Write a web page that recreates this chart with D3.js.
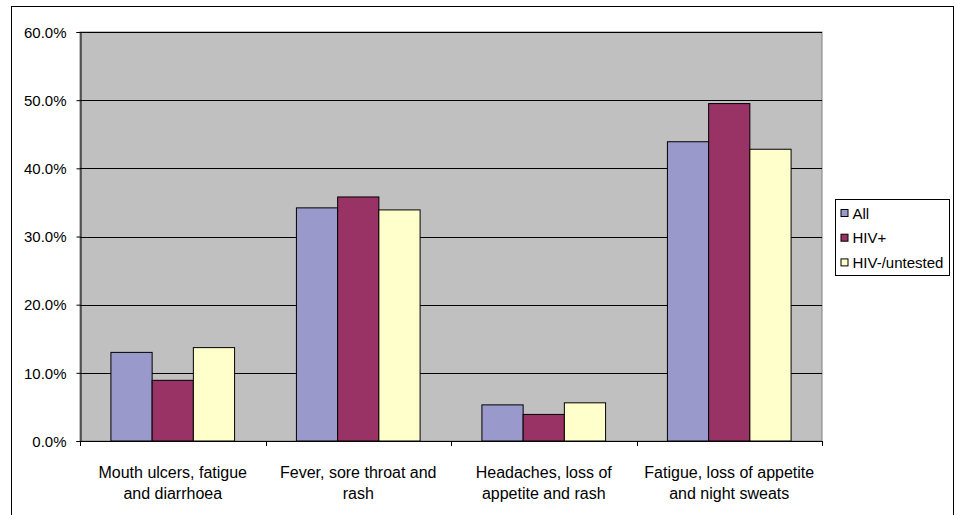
<!DOCTYPE html>
<html>
<head>
<meta charset="utf-8">
<script src="https://cdn.jsdelivr.net/npm/d3@7"></script>
<style>
  body { margin: 0; background: #fff; }
  text { font-family: Arial, "Liberation Sans", sans-serif; fill: #000; }
</style>
</head>
<body>
<div id="chart"></div>
<script>
// data
let categories = [
    ["Mouth ulcers, fatigue", "and diarrhoea"],
    ["Fever, sore throat and", "rash"],
    ["Headaches, loss of", "appetite and rash"],
    ["Fatigue, loss of appetite", "and night sweats"]
];
let seriesNames = ["All", "HIV+", "HIV-/untested"];
let seriesColors = ["#9999CC", "#993366", "#FFFFCC"];
let allValues = [13.0, 34.2, 5.3, 43.9];
let hivPosValues = [8.9, 35.8, 3.9, 49.5];
let hivNegValues = [13.7, 33.9, 5.6, 42.8];
let yTicks = [0, 10, 20, 30, 40, 50, 60];

let seriesValues = [allValues, hivPosValues, hivNegValues];

// plot area
let margin = {top: 32, left: 80},
    width = 742,
    height = 409;

let svg = d3.select("#chart").append("svg")
    .attr("width", 957)
    .attr("height", 515);

// outer chart border
svg.append("rect")
    .attr("x", 11.5).attr("y", 6.5)
    .attr("width", 942).attr("height", 520)
    .attr("fill", "none")
    .attr("stroke", "#000");

let g = svg.append("g")
    .attr("transform", "translate(" + margin.left + "," + margin.top + ")");

let catKeys = categories.map(function(c, i) { return i; });

let x0 = d3.scaleBand()
    .domain(catKeys)
    .range([0, width])
    .padding(0);

let x1 = d3.scaleBand()
    .domain(seriesNames)
    .range([0, x0.bandwidth()])
    .paddingInner(0)
    .paddingOuter(0.75);

let y = d3.scaleLinear()
    .domain([0, 60])
    .range([height, 0]);

// gray background
g.append("rect")
    .attr("width", width)
    .attr("height", height)
    .attr("fill", "#C0C0C0")
    .attr("stroke", "#808080");

// gridlines
g.selectAll(".grid")
    .data(yTicks.filter(function(d) { return d > 0; }))
    .enter().append("line")
    .attr("x1", 0).attr("x2", width)
    .attr("y1", function(d) { return Math.round(y(d)) + 0.5; })
    .attr("y2", function(d) { return Math.round(y(d)) + 0.5; })
    .attr("stroke", "#000");

// bars
let groups = g.selectAll(".cat")
    .data(catKeys)
    .enter().append("g")
    .attr("transform", function(d) { return "translate(" + x0(d) + ",0)"; });

groups.selectAll("rect")
    .data(function(ci) {
        return seriesNames.map(function(s, si) {
            return {name: s, value: seriesValues[si][ci], color: seriesColors[si]};
        });
    })
    .enter().append("rect")
    .attr("x", function(d) { return x1(d.name); })
    .attr("width", x1.bandwidth())
    .attr("y", function(d) { return y(d.value); })
    .attr("height", function(d) { return height - y(d.value); })
    .attr("fill", function(d) { return d.color; })
    .attr("stroke", "#000")
    .attr("stroke-width", 1);

// y axis
let yAxis = g.append("g")
    .attr("transform", "translate(0.5,0)")
    .call(d3.axisLeft(y).tickValues(yTicks).tickSize(4).tickPadding(10)
        .tickFormat(function(d) { return d.toFixed(1) + "%"; }));
yAxis.select(".domain").attr("stroke", "#000");
yAxis.selectAll("text").style("font-size", "15px").attr("dy", "0.35em");

// x axis line and ticks at category boundaries
g.append("line")
    .attr("x1", 0).attr("x2", width)
    .attr("y1", height + 0.5).attr("y2", height + 0.5)
    .attr("stroke", "#000");

let boundaries = catKeys.map(function(d) { return x0(d); }).concat([width]);
g.selectAll(".xtick")
    .data(boundaries)
    .enter().append("line")
    .attr("x1", function(d) { return Math.round(d) + 0.5; })
    .attr("x2", function(d) { return Math.round(d) + 0.5; })
    .attr("y1", height)
    .attr("y2", height + 5)
    .attr("stroke", "#000");

// category labels
let labels = g.selectAll(".xlabel")
    .data(catKeys)
    .enter().append("text")
    .attr("text-anchor", "middle")
    .style("font-size", "16px")
    .attr("transform", function(d) {
        return "translate(" + (x0(d) + x0.bandwidth() / 2) + "," + (height + 37) + ")";
    });
labels.selectAll("tspan")
    .data(function(d) { return categories[d]; })
    .enter().append("tspan")
    .attr("x", 0)
    .attr("y", function(d, i) { return i * 21; })
    .text(function(d) { return d; });

// legend
let legend = svg.append("g")
    .attr("transform", "translate(835.5,199.5)");
legend.append("rect")
    .attr("width", 114)
    .attr("height", 76)
    .attr("fill", "#fff")
    .attr("stroke", "#000");

let items = legend.selectAll(".item")
    .data(seriesNames)
    .enter().append("g")
    .attr("transform", function(d, i) { return "translate(5," + (14 + i * 24.7) + ")"; });
items.append("rect")
    .attr("x", 0.5).attr("y", -4)
    .attr("width", 7).attr("height", 7)
    .attr("fill", function(d, i) { return seriesColors[i]; })
    .attr("stroke", "#000");
items.append("text")
    .attr("x", 12)
    .attr("dy", "0.35em")
    .style("font-size", "15px")
    .text(function(d) { return d; });
</script>
</body>
</html>
